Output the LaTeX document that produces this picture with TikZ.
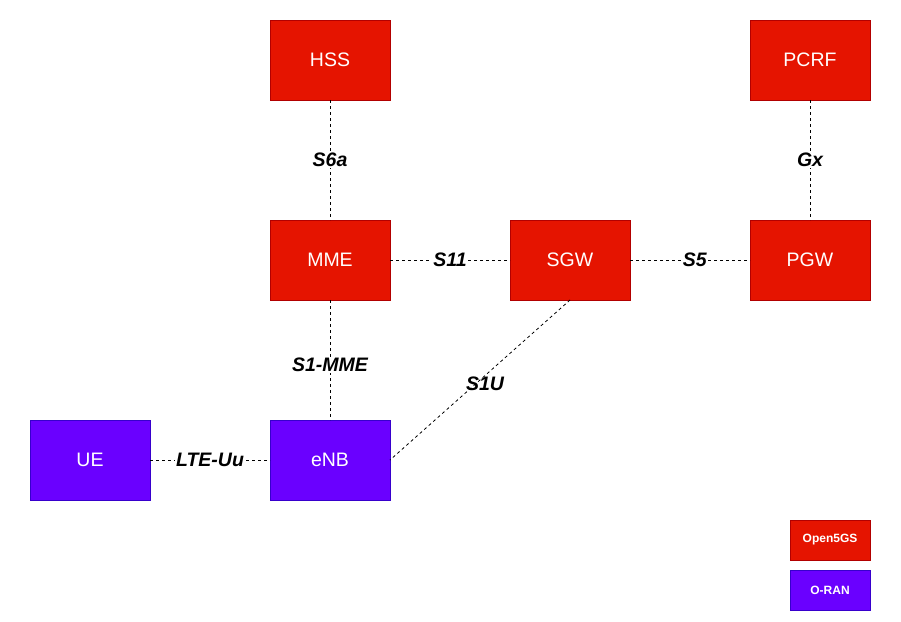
\documentclass[tikz,border=0pt]{standalone}
\usepackage{fontspec}
\setmainfont{Liberation Sans}
\usetikzlibrary{positioning}
\definecolor{coreRed}{HTML}{E51400}
\definecolor{coreRedLine}{HTML}{B20000}
\definecolor{ranViolet}{HTML}{6A00FF}
\definecolor{ranVioletLine}{HTML}{3700CC}

\begin{document}
\begin{tikzpicture}[
  node distance=120pt,
  box/.style={draw,line width=0.8pt,text=white,outer sep=0pt,
              minimum width=120pt,minimum height=80pt,
              font=\fontsize{19.5}{22}\selectfont},
  core/.style={box,fill=coreRed,draw=coreRedLine},
  ran/.style={box,fill=ranViolet,draw=ranVioletLine},
  legend/.style={draw,line width=0.8pt,text=white,
                 minimum width=80pt,minimum height=40pt,
                 font=\fontsize{12}{14}\selectfont\bfseries},
  iface/.style={dashed,dash pattern=on 3pt off 3pt,line width=0.8pt},
  lbl/.style={fill=white,inner sep=1pt,
              font=\fontsize{19.5}{22}\selectfont\bfseries\itshape}
]
\useasboundingbox (0pt,0pt) rectangle (901pt,-621pt);

% core network
\node[core] (hss) at (330pt,-60pt) {HSS};
\node[core,below=of hss] (mme) {MME};
\node[core,right=of mme] (sgw) {SGW};
\node[core,right=of sgw] (pgw) {PGW};
\node[core,above=of pgw] (pcrf) {PCRF};

% radio side
\node[ran,below=of mme] (enb) {eNB};
\node[ran,left=of enb] (ue) {UE};

% legend
\node[legend,fill=coreRed,draw=coreRedLine] (leg5gs) at (830pt,-540pt) {Open5GS};
\node[legend,fill=ranViolet,draw=ranVioletLine] (legoran) at (830pt,-590pt) {O-RAN};

% interfaces
\draw[iface] (hss) -- node[lbl] {S6a} (mme);
\draw[iface] (pcrf) -- node[lbl] {Gx} (pgw);
\draw[iface] (mme) -- node[lbl] {S11} (sgw);
\draw[iface] (sgw) -- node[lbl,pos=0.54] {S5} (pgw);
\draw[iface] (mme) -- node[lbl,pos=0.54] {S1-MME} (enb);
\draw[iface] (sgw.south) -- node[lbl,fill=none,xshift=5pt,yshift=-4pt] {S1U} (enb.east);
\draw[iface] (ue) -- node[lbl] {LTE-Uu} (enb);
\end{tikzpicture}
\end{document}
